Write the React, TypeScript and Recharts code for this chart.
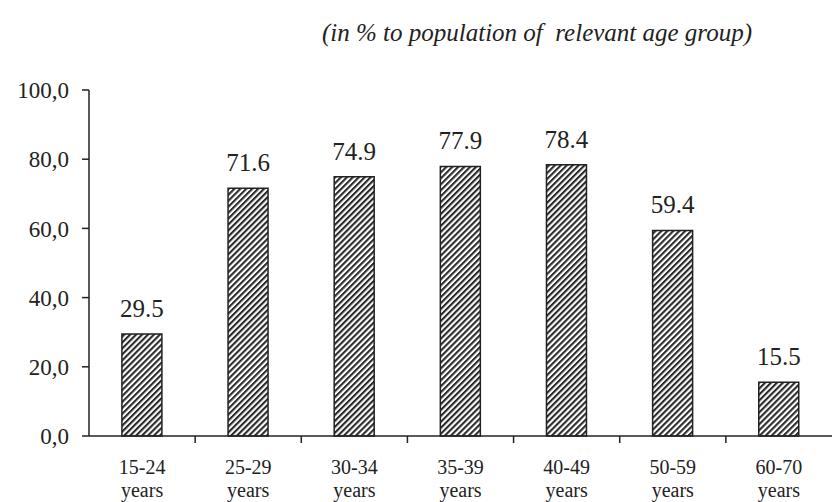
import { BarChart, Bar, XAxis, YAxis, LabelList } from 'recharts'

const ageGroups = ['15-24', '25-29', '30-34', '35-39', '40-49', '50-59', '60-70']
const rates = [29.5, 71.6, 74.9, 77.9, 78.4, 59.4, 15.5]
const yTicks = [0, 20, 40, 60, 80, 100]

const data = ageGroups.map((g, i) => ({ group: g, rate: rates[i] }))

const W = 834
const H = 502
const margin = { top: 90, right: 2, left: 29, bottom: 16 }
const yAxisWidth = 60
const FONT = '"Liberation Serif", "Times New Roman", serif'

const plotWidth = W - margin.left - margin.right - yAxisWidth
const band = plotWidth / ageGroups.length

function AgeTick(props: any) {
  const { x, y, payload, index } = props
  const isLast = index === ageGroups.length - 1
  return (
    <g>
      {!isLast && (
        <line x1={x + band / 2} x2={x + band / 2} y1={y - 8} y2={y - 1} stroke="#222" strokeWidth={1.5} />
      )}
      <text x={x} y={y + 30} textAnchor="middle" fontFamily={FONT} fontSize={20} fill="#222">
        {payload.value}
      </text>
      <text x={x} y={y + 53} textAnchor="middle" fontFamily={FONT} fontSize={20} fill="#222">
        years
      </text>
    </g>
  )
}

export default function App() {
  return (
    <div style={{ width: W, height: H, background: '#fff', position: 'relative' }}>
      <style>{'body{margin:0}'}</style>
      <div
        style={{
          position: 'absolute', top: 18, left: 0, width: 752, textAlign: 'right',
          fontFamily: FONT, fontStyle: 'italic', fontSize: 25, color: '#222', lineHeight: '30px',
        }}
      >
        (in % to population of&nbsp; relevant age group)
      </div>
      <BarChart width={W} height={H} data={data} margin={margin} barCategoryGap="31%">
        <defs>
          <pattern id="hatch" width="4.2" height="4.2" patternUnits="userSpaceOnUse" patternTransform="rotate(45)">
            <rect width="4.2" height="4.2" fill="#fff" />
            <rect width="2.1" height="4.2" fill="#2a2a2a" />
          </pattern>
        </defs>
        <XAxis
          dataKey="group"
          axisLine={{ stroke: '#222', strokeWidth: 1.5 }}
          tickLine={false}
          tick={<AgeTick />}
          height={50}
          interval={0}
        />
        <YAxis
          domain={[0, 100]}
          ticks={yTicks}
          width={yAxisWidth}
          axisLine={{ stroke: '#222', strokeWidth: 1.5 }}
          tickLine={{ stroke: '#222', strokeWidth: 1.5 }}
          tickSize={7}
          tickMargin={13}
          tickFormatter={(v: number) => v.toFixed(1).replace('.', ',')}
          tick={{ fontFamily: FONT, fontSize: 23, fill: '#222' }}
        />
        <Bar dataKey="rate" fill="url(#hatch)" stroke="#222" strokeWidth={1.5} isAnimationActive={false}>
          <LabelList
            dataKey="rate"
            position="top"
            offset={17}
            formatter={(v: number) => v.toFixed(1)}
            style={{ fontFamily: FONT, fontSize: 25, fill: '#222' }}
          />
        </Bar>
      </BarChart>
    </div>
  )
}
